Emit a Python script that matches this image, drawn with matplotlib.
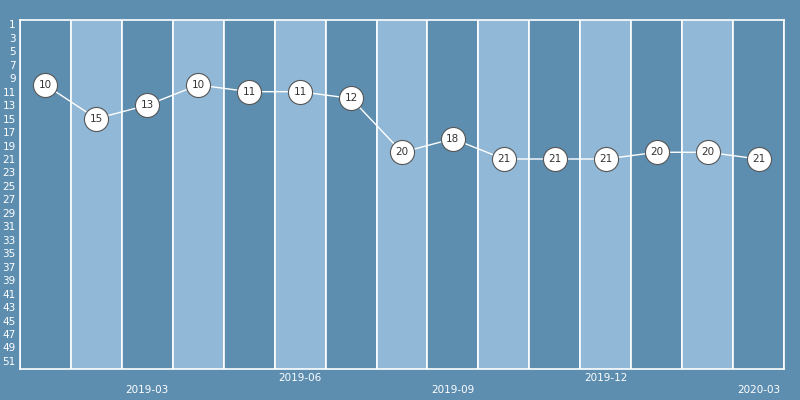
import matplotlib
matplotlib.use("Agg")
import matplotlib.pyplot as plt

months = ["2019-01", "2019-02", "2019-03", "2019-04", "2019-05", "2019-06",
          "2019-07", "2019-08", "2019-09", "2019-10", "2019-11", "2019-12",
          "2020-01", "2020-02", "2020-03"]
ranks = [10, 15, 13, 10, 11, 11, 12, 20, 18, 21, 21, 21, 20, 20, 21]
rank_ticks = list(range(1, 52, 2))

BG = "#5d8eb0"
LIGHT = "#91b8d6"

fig = plt.figure(figsize=(8, 4), dpi=100, facecolor=BG)
ax = fig.add_axes([20 / 800, 31 / 400, 764 / 800, 349 / 400])
ax.set_facecolor(BG)

x = list(range(len(months)))
band_colors = [BG if i % 2 == 0 else LIGHT for i in x]
ax.bar(x, [60] * len(x), width=1, bottom=-5, color=band_colors,
       edgecolor="white", linewidth=1.2, zorder=1)

ax.plot(x, ranks, color="white", linewidth=1, zorder=2)
ax.scatter(x, ranks, s=300, facecolor="white", edgecolor="#555555",
           linewidth=0.8, zorder=3)
for xi, r in zip(x, ranks):
    ax.text(xi, r, str(r), ha="center", va="center", fontsize=7.5,
            color="#333333", zorder=4)

ax.set_xlim(-0.5, len(months) - 0.5)
ax.set_ylim(52.2, 0.35)
ax.set_yticks(rank_ticks)
ax.set_yticklabels([str(t) for t in rank_ticks])

# only quarterly labels, staggered on two rows
shown = [i for i, m in enumerate(months) if m[-2:] in ("03", "06", "09", "12")]
labels = []
for k, i in enumerate(shown):
    labels.append(("\n" if k % 2 == 0 else "") + months[i])
ax.set_xticks(shown)
ax.set_xticklabels(labels)

ax.tick_params(axis="both", colors="white", length=0, labelsize=7.5)
ax.tick_params(axis="y", pad=3)
ax.tick_params(axis="x", pad=3)
for side, sp in ax.spines.items():
    sp.set_color("white")
    sp.set_linewidth(1.2)

fig.savefig("out.png", dpi=100, facecolor=BG)
